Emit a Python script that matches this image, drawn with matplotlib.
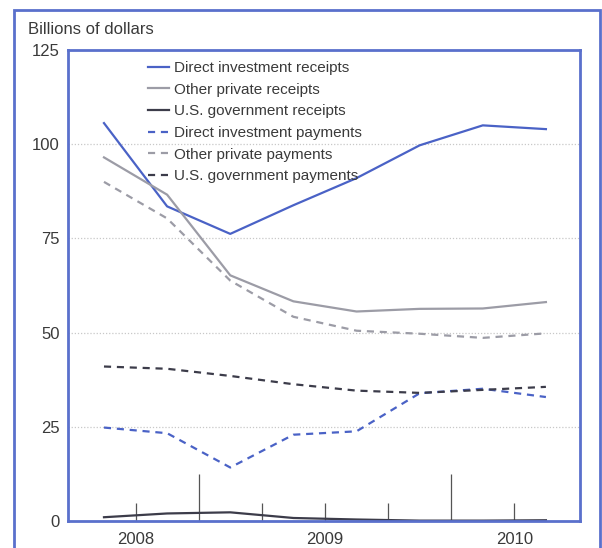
import matplotlib
matplotlib.use("Agg")
import matplotlib.pyplot as plt
from matplotlib.patches import Rectangle

plt.rcParams['font.family'] = ['Liberation Sans', 'DejaVu Sans']

# quarterly observations (8 points)
quarters = list(range(8))
direct_inv_receipts = [105.6, 83.5, 76.2, 83.8, 91.0, 99.7, 105.0, 104.0]
other_priv_receipts = [96.5, 86.6, 65.2, 58.3, 55.6, 56.3, 56.4, 58.1]
usgov_receipts = [1.0, 2.0, 2.3, 0.8, 0.4, 0.1, 0.1, 0.2]
direct_inv_payments = [24.8, 23.3, 14.2, 22.9, 23.8, 33.9, 35.1, 32.9]
other_priv_payments = [90.0, 80.3, 63.8, 54.2, 50.5, 49.7, 48.6, 49.8]
usgov_payments = [41.0, 40.4, 38.5, 36.3, 34.6, 34.0, 34.8, 35.6]

year_labels = ['2008', '', '2009', '', '2010']
short_ticks = [0.5, 2.5, 3.5, 4.5, 6.5]
tall_ticks = [1.5, 5.5]
y_ticks = [0, 25, 50, 75, 100, 125]

BLUE = '#4a62c6'
FRAME = '#5a70cc'
GRAY = '#9c9ca6'
DARK = '#3c3c4a'
TXT = '#3a3a3a'

fig = plt.figure(figsize=(6.02, 5.48), dpi=100)
W, H = 602, 548
ax = fig.add_axes([68 / W, (H - 521) / H, (580 - 68) / W, (521 - 50) / H])

# outer frame
fig.patches.append(Rectangle((14 / W, -0.05), (600 - 14) / W, (H - 10) / H + 0.05,
                             transform=fig.transFigure, fill=False,
                             edgecolor=FRAME, linewidth=2.0, clip_on=False))

dash = (0, (3.2, 2.6))
ax.plot(quarters, direct_inv_receipts, color=BLUE, lw=1.6, label='Direct investment receipts')
ax.plot(quarters, other_priv_receipts, color=GRAY, lw=1.6, label='Other private receipts')
ax.plot(quarters, usgov_receipts, color=DARK, lw=1.6, label='U.S. government receipts')
ax.plot(quarters, direct_inv_payments, color=BLUE, lw=1.6, ls=dash, label='Direct investment payments')
ax.plot(quarters, other_priv_payments, color=GRAY, lw=1.6, ls=dash, label='Other private payments')
ax.plot(quarters, usgov_payments, color=DARK, lw=1.6, ls=dash, label='U.S. government payments')

ax.set_xlim(-0.57, 7.54)
ax.set_ylim(0, 125)

for yv in [25, 50, 75, 100]:
    ax.axhline(yv, color='#c8c8c8', lw=0.9, ls=(0, (1, 1.5)), zorder=0)

ax.set_yticks(y_ticks)
ax.set_yticklabels([str(v) for v in y_ticks])
ax.tick_params(axis='y', length=0, pad=6, labelsize=12, labelcolor=TXT)

ax.set_xticks(short_ticks)
ax.set_xticklabels(year_labels)
ax.set_xticks(tall_ticks, minor=True)
ax.tick_params(axis='x', which='major', direction='in', length=13, width=0.9,
               color='#555555', labelsize=12, labelcolor=TXT, pad=8)
ax.tick_params(axis='x', which='minor', direction='in', length=34, width=0.9,
               color='#555555')

for s in ax.spines.values():
    s.set_color(FRAME)
    s.set_linewidth(2.0)

leg = ax.legend(loc='upper left', bbox_to_anchor=((148 - 68) / 512, (521 - 61) / 471),
                frameon=False, fontsize=11, handlelength=1.4, handletextpad=0.3,
                labelspacing=0.5, borderpad=0, borderaxespad=0)
for t in leg.get_texts():
    t.set_color(TXT)

fig.text(28 / W, (H - 30) / H, 'Billions of dollars', fontsize=12, color=TXT,
         ha='left', va='center')

fig.savefig('out.png', dpi=100)
